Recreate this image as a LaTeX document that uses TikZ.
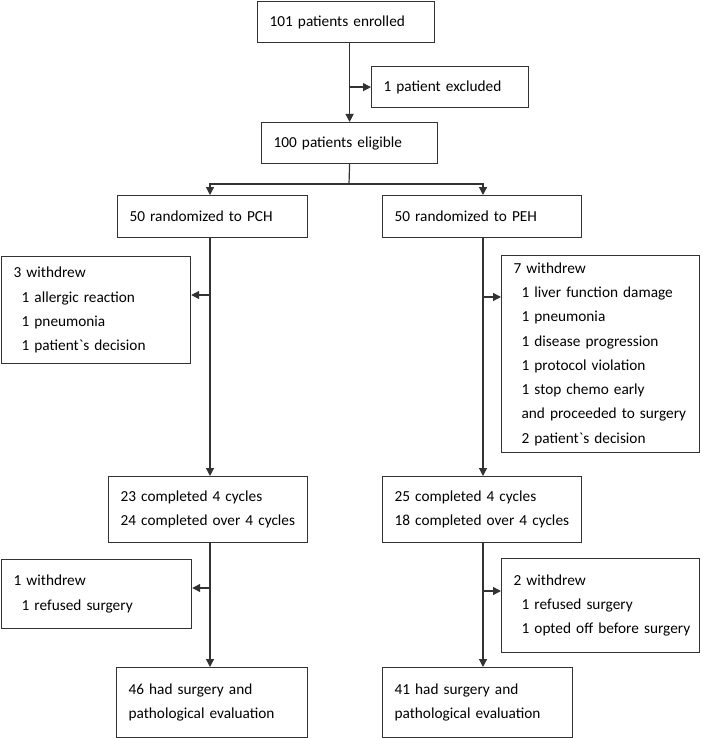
\documentclass[tikz,border=0pt]{standalone}
\usepackage{fontspec}
\setmainfont{Carlito}
\usetikzlibrary{arrows.meta}
\tikzset{box/.style={draw=black!80,line width=1.2pt,anchor=north west,align=left,
    inner xsep=12pt,inner ysep=3pt,font=\fontsize{15.3}{24.3}\selectfont},
    line/.style={draw=black!80,line width=1.2pt},
    arr/.style={line,-{Triangle[length=8pt,width=8pt]}}}
\newcommand{\sub}[1]{\mbox{\hspace*{8pt}#1}}

\begin{document}
\begin{tikzpicture}[x=1pt,y=-1pt]
\useasboundingbox (0,0) rectangle (702,738);
\node[box,text width=153pt,minimum height=41pt] (enrol) at (257,1) {101 patients enrolled};
\node[box,text width=133pt,minimum height=41pt] (excl) at (371,66) {1 patient excluded};
\node[box,text width=152pt,minimum height=41pt] (elig) at (261,122) {100 patients eligible};
\node[box,text width=166pt,minimum height=42pt] (pch) at (117,195) {50 randomized to PCH};
\node[box,text width=175pt,minimum height=42pt] (peh) at (382,195) {50 randomized to PEH};
\node[box,text width=165pt,minimum height=107pt] (wpch) at (1,256) {3 withdrew\\
    \sub{1 allergic reaction}\\
    \sub{1 pneumonia}\\
    \sub{1 patient\textasciigrave s decision}};
\node[box,text width=174pt,minimum height=197pt] (wpeh) at (501,255) {7 withdrew\\
    \sub{1 liver function damage}\\
    \sub{1 pneumonia}\\
    \sub{1 disease progression}\\
    \sub{1 protocol violation}\\
    \sub{1 stop chemo early}\\
    \sub{and proceeded to surgery}\\
    \sub{2 patient\textasciigrave s decision}};
\node[box,text width=175pt,minimum height=66pt] (cpch) at (108,476) {23 completed 4 cycles\\
    \mbox{24 completed over 4 cycles}};
\node[box,text width=175pt,minimum height=66pt] (cpeh) at (382,476) {25 completed 4 cycles\\
    \mbox{18 completed over 4 cycles}};
\node[box,text width=166pt,minimum height=69pt] (spch) at (1,559) {1 withdrew\\
    \sub{1 refused surgery}};
\node[box,text width=174pt,minimum height=94pt] (speh) at (501,558) {2 withdrew\\
    \sub{1 refused surgery}\\
    \sub{1 opted off before surgery}};
\node[box,text width=167pt,minimum height=70pt] (opch) at (116,667) {46 had surgery and\\
    pathological evaluation};
\node[box,text width=166pt,minimum height=70pt] (opeh) at (382,667) {41 had surgery and\\
    pathological evaluation};

\coordinate (split) at (349,184);
\coordinate (lcol) at (210,184);
\coordinate (rcol) at (483,184);
\coordinate (lw1) at (210,295);
\coordinate (rw1) at (483,297);
\coordinate (lw2) at (210,588);
\coordinate (rw2) at (483,591);

\draw[arr] (elig.north |- enrol.south) -- (elig.north);
\draw[arr] (elig.north |- excl.west) -- (excl.west);
\draw[line] (elig.south) -- (split);
\draw[arr] (split) -| (lcol |- pch.north);
\draw[arr] (split) -| (rcol |- peh.north);
\draw[arr] (lcol |- pch.south) -- (lcol |- cpch.north);
\draw[arr] (rcol |- peh.south) -- (rcol |- cpeh.north);
\draw[arr] (lw1) -- (lw1 -| wpch.east);
\draw[arr] (rw1) -- (rw1 -| wpeh.west);
\draw[arr] (lcol |- cpch.south) -- (lcol |- opch.north);
\draw[arr] (rcol |- cpeh.south) -- (rcol |- opeh.north);
\draw[arr] (lw2) -- (lw2 -| spch.east);
\draw[arr] (rw2) -- (rw2 -| speh.west);
\end{tikzpicture}
\end{document}
